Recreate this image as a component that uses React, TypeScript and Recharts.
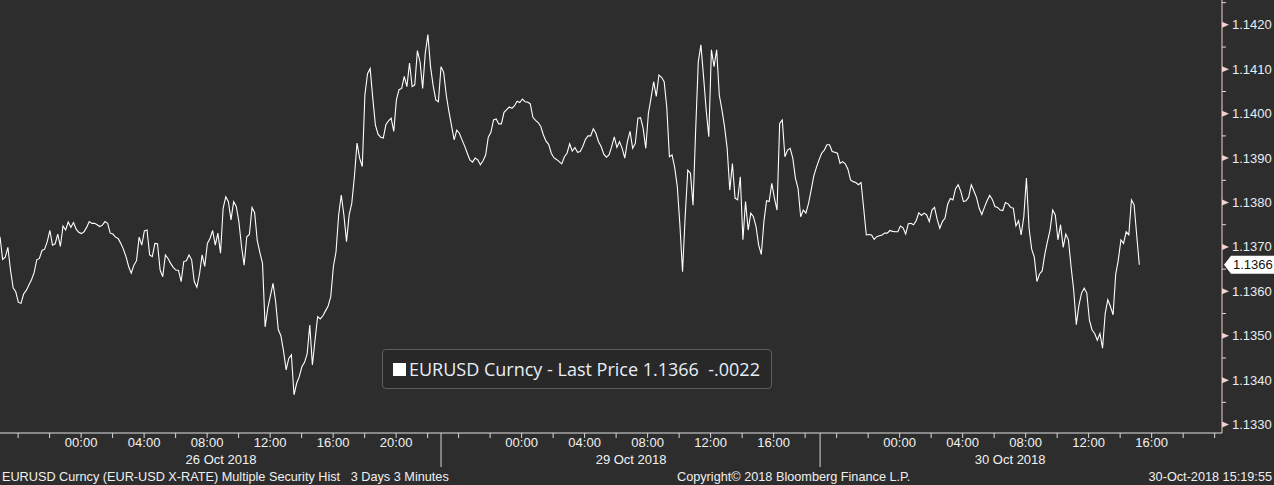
import { LineChart, Line, XAxis, YAxis } from "recharts"

// EURUSD last price, one reading every 10 minutes of session time
// (session clock starts 25 Oct 2018 18:51, weekend gap left out)
const STEP_MIN = 10
const prices: number[] = [
  1.13723, 1.13672, 1.13677, 1.13699, 1.13648, 1.13608, 1.13599, 1.13575, 1.13573, 1.13594,
  1.13602, 1.13614, 1.13626, 1.13642, 1.13671, 1.13674, 1.13692, 1.13695, 1.13712, 1.13737,
  1.13704, 1.13707, 1.13729, 1.13701, 1.13747, 1.13738, 1.13756, 1.13744, 1.13755, 1.1374,
  1.13733, 1.1373, 1.13734, 1.13744, 1.13757, 1.13753, 1.13753, 1.1375, 1.13746, 1.13749,
  1.13757, 1.13753, 1.13731, 1.13729, 1.13722, 1.13719, 1.13708, 1.13695, 1.13678, 1.13656,
  1.13641, 1.13659, 1.13669, 1.13722, 1.13704, 1.13736, 1.13738, 1.13682, 1.13678, 1.13708,
  1.13707, 1.13648, 1.13633, 1.13682, 1.13674, 1.13663, 1.13654, 1.13648, 1.13647, 1.13622,
  1.13667, 1.13669, 1.13682, 1.13671, 1.13622, 1.13609, 1.13639, 1.13682, 1.13656, 1.13708,
  1.13719, 1.13737, 1.13704, 1.13731, 1.13686, 1.13787, 1.13813, 1.13802, 1.13761, 1.13802,
  1.13791, 1.13757, 1.13701, 1.13659, 1.13723, 1.13728, 1.13789, 1.13777, 1.13714, 1.13687,
  1.13663, 1.1352, 1.13562, 1.1359, 1.13618, 1.13577, 1.13514, 1.135, 1.13466, 1.13423,
  1.13449,
  1.13457, 1.13367, 1.13393, 1.13408, 1.1343, 1.1344, 1.13459, 1.13524, 1.13434, 1.1349,
  1.13543, 1.13538, 1.13545, 1.13556, 1.13567, 1.13588, 1.13656, 1.13689, 1.13772, 1.13817,
  1.13772, 1.13712, 1.13772, 1.13798, 1.13858, 1.13934, 1.139, 1.13881, 1.14042, 1.1409,
  1.14102, 1.14035, 1.13975, 1.13954, 1.13947, 1.13945, 1.13975, 1.13984, 1.1399, 1.1396,
  1.14031, 1.14054, 1.14057, 1.14084, 1.14061, 1.14114, 1.14061, 1.14065, 1.14142, 1.14117,
  1.14057, 1.14136, 1.14178, 1.14106, 1.14063, 1.14031, 1.14027, 1.14106, 1.14093, 1.14042,
  1.14005, 1.13973, 1.13941, 1.13963, 1.13956, 1.13941, 1.13927, 1.13911, 1.13896, 1.13891,
  1.139, 1.13896, 1.13885, 1.13894, 1.13907, 1.13947, 1.13958, 1.13986, 1.13988, 1.13977,
  1.13977, 1.14003, 1.14009, 1.14015, 1.14012, 1.14018, 1.14028, 1.14025, 1.14033, 1.14027,
  1.14026, 1.14022, 1.13992, 1.13985, 1.1398, 1.13971, 1.13952, 1.13938, 1.13931, 1.13911,
  1.13901, 1.13897, 1.13892, 1.13887, 1.13903, 1.13911, 1.13932, 1.13916, 1.13924, 1.13913,
  1.13915, 1.13926, 1.13942, 1.1395, 1.1395, 1.13966, 1.13956, 1.13937, 1.13926, 1.13909,
  1.13902, 1.13907, 1.13926, 1.13948, 1.13924, 1.13937, 1.13922, 1.139, 1.13937, 1.1396,
  1.13922, 1.13933, 1.1399, 1.13991, 1.13967, 1.13922, 1.14001, 1.14035, 1.14072, 1.14039,
  1.14087, 1.14082, 1.14072, 1.14014, 1.13903, 1.13907, 1.13879, 1.13836, 1.13749, 1.13644,
  1.13768, 1.13873, 1.13866, 1.13794, 1.13963, 1.14117, 1.14155, 1.14084, 1.14009, 1.13948,
  1.14144, 1.14106, 1.14144, 1.14042, 1.14009, 1.13971, 1.13922, 1.13828, 1.13888, 1.1381,
  1.13806, 1.13858, 1.13716, 1.13802, 1.13738, 1.13776, 1.13768, 1.13746, 1.13704, 1.13683,
  1.13757, 1.13804, 1.13802, 1.13843, 1.1381, 1.13783, 1.13978, 1.13986, 1.13903, 1.13918,
  1.13922, 1.139, 1.13855, 1.13832, 1.13768, 1.13783, 1.13776, 1.13798, 1.13828, 1.1386,
  1.13879, 1.13896, 1.13911, 1.13918, 1.1393, 1.1393, 1.13915, 1.13913, 1.13911, 1.13888,
  1.13892, 1.13887, 1.13875, 1.13851, 1.13847, 1.13845, 1.1384, 1.13845, 1.13787, 1.13727,
  1.13728,
  1.13727, 1.13717, 1.13723, 1.13725, 1.13727, 1.13731, 1.13731, 1.13737, 1.13735,
  1.13734, 1.13734, 1.13747, 1.13743, 1.13729, 1.13752, 1.13753, 1.1375, 1.13759, 1.13777,
  1.13771, 1.13776, 1.13772, 1.13757, 1.13783, 1.13789, 1.13762, 1.13742, 1.13757, 1.13765,
  1.13796, 1.13809, 1.13806, 1.13831, 1.1384, 1.13825, 1.13802, 1.13804, 1.13812, 1.1384,
  1.13826, 1.13811, 1.13787, 1.13773, 1.13789, 1.13804, 1.13816, 1.13807, 1.13791, 1.13789,
  1.13783, 1.13782, 1.138, 1.13797, 1.13789, 1.13787, 1.13747, 1.13759, 1.13727, 1.13768,
  1.13855, 1.13742, 1.13695, 1.13677, 1.13622, 1.13639, 1.13646, 1.13683, 1.13712, 1.13738,
  1.13783, 1.13772, 1.13716, 1.1375, 1.13699, 1.13729, 1.13716, 1.13656, 1.13603, 1.13525,
  1.13569, 1.13596, 1.13607, 1.13596, 1.13535, 1.13513, 1.13505, 1.1349, 1.13505, 1.13472,
  1.1355, 1.13581, 1.13566, 1.13547, 1.13638, 1.13671, 1.13716, 1.13708, 1.13734, 1.13727,
  1.13806, 1.13795, 1.13727, 1.1366
]

// x axis, in session minutes: a tick every 2 hours, labelled every 4 hours
const hourTicks = [
  69, 189, 309, 429, 549, 669, 789, 909, 1029, 1149, 1269, 1389, 1509, 1629,
  1747, 1867, 1987, 2107, 2227, 2347, 2467, 2587, 2707, 2827, 2947, 3067,
  3187, 3307, 3427, 3547, 3667, 3787, 3907, 4027, 4147, 4267, 4387, 4507, 4627
]
const hourLabels = [
  "", "", "00:00", "", "04:00", "", "08:00", "", "12:00", "", "16:00", "", "20:00", "",
  "", "", "00:00", "", "04:00", "", "08:00", "", "12:00", "", "16:00", "",
  "", "", "00:00", "", "04:00", "", "08:00", "", "12:00", "", "16:00", "", ""
]
const daySeparators = [1680, 3124]
const dayLabelTicks = [842, 2404, 3848]
const dayLabels = ["26 Oct 2018", "29 Oct 2018", "30 Oct 2018"]

// y axis ticks (every half a big figure step), last price tag goes last
const priceTicks = [
  1.133, 1.1335, 1.134, 1.1345, 1.135, 1.1355, 1.136, 1.1365, 1.137, 1.1375,
  1.138, 1.1385, 1.139, 1.1395, 1.14, 1.1405, 1.141, 1.1415, 1.142, 1.1425
]
const lastPrice = 1.1366
const priceChange = "-.0022"

const X_DOMAIN: [number, number] = [0, 4655]
const Y_DOMAIN: [number, number] = [1.13281, 1.14256]

const BG = "#2d2d2d"
const AXIS_FONT = "'Liberation Sans', Arial, sans-serif"

const data = prices.map((price, i) => ({ t: i * STEP_MIN, price }))

// time axis tick: hour marks, day separators and day labels
const TimeTick = ({ x, y, payload }: any) => {
  const v = payload.value
  const sep = daySeparators.indexOf(v)
  if (sep >= 0) {
    return <line x1={x} x2={x} y1={y} y2={y + 34} stroke="#d6d6d6" strokeWidth={1} />
  }
  const d = dayLabelTicks.indexOf(v)
  if (d >= 0) {
    return (
      <text x={x} y={y + 26} fill="#f2f2f2" fontSize={13} fontFamily={AXIS_FONT}
        textAnchor="middle" dominantBaseline="central">
        {dayLabels[d]}
      </text>
    )
  }
  const h = hourTicks.indexOf(v)
  return (
    <g>
      <line x1={x} x2={x} y1={y} y2={y + 5} stroke="#d6d6d6" strokeWidth={1} />
      {hourLabels[h] ? (
        <text x={x} y={y + 9.5} fill="#f2f2f2" fontSize={13} fontFamily={AXIS_FONT}
          textAnchor="middle" dominantBaseline="central">
          {hourLabels[h]}
        </text>
      ) : null}
    </g>
  )
}

// price axis tick: pink arrow + label on whole pips*10, short dash in between
const PriceTick = ({ x, y, payload }: any) => {
  const v = payload.value
  if (v === lastPrice) {
    return (
      <g>
        <polygon
          points={`${x + 2},${y} ${x + 9},${y - 9} ${x + 53},${y - 9} ${x + 53},${y + 9} ${x + 9},${y + 9}`}
          fill="#ffffff"
        />
        <text x={x + 11} y={y} fill="#111111" fontSize={13} fontFamily={AXIS_FONT}
          dominantBaseline="central">
          {lastPrice.toFixed(4)}
        </text>
      </g>
    )
  }
  const major = Math.round(v * 10000) % 10 === 0
  if (!major) {
    return <line x1={x} x2={x + 4} y1={y} y2={y} stroke="#f0d2d2" strokeWidth={1} />
  }
  return (
    <g>
      <polygon points={`${x},${y - 3} ${x + 7},${y} ${x},${y + 3}`} fill="#f4d0d0" />
      <text x={x + 10} y={y} fill="#e6ecf4" fontSize={13} fontFamily={AXIS_FONT}
        dominantBaseline="central">
        {v.toFixed(4)}
      </text>
    </g>
  )
}

const footerStyle = {
  position: "absolute" as const,
  top: 469,
  fontFamily: AXIS_FONT,
  fontSize: 12.7,
  lineHeight: "16px",
  color: "#f0f0f0",
  whiteSpace: "pre" as const
}

export default function App() {
  return (
    <div style={{ position: "absolute", left: 0, top: 0, width: 1274, height: 485, background: BG, overflow: "hidden" }}>
      <LineChart width={1274} height={485} data={data} margin={{ top: 0, right: 0, bottom: 0, left: 0 }}>
        <XAxis
          dataKey="t"
          type="number"
          domain={X_DOMAIN}
          allowDataOverflow
          height={52}
          ticks={[...hourTicks, ...daySeparators, ...dayLabelTicks]}
          interval={0}
          tickSize={0}
          tickMargin={0}
          tickLine={false}
          axisLine={{ stroke: "#e2e2e2" }}
          tick={<TimeTick />}
        />
        <YAxis
          orientation="right"
          type="number"
          domain={Y_DOMAIN}
          allowDataOverflow
          width={52}
          ticks={[...priceTicks, lastPrice]}
          interval={0}
          tickSize={0}
          tickMargin={0}
          tickLine={false}
          axisLine={{ stroke: "#f0d2d2" }}
          tick={<PriceTick />}
        />
        <Line
          type="linear"
          dataKey="price"
          stroke="#ffffff"
          strokeWidth={1.1}
          dot={false}
          activeDot={false}
          isAnimationActive={false}
        />
      </LineChart>

      <div
        style={{
          position: "absolute", left: 382, top: 349, width: 390, height: 40,
          boxSizing: "border-box", border: "1px solid #5e5e5e", borderRadius: 4,
          background: "#282828", display: "flex", alignItems: "center"
        }}
      >
        <div style={{ width: 13, height: 13, background: "#ffffff", marginLeft: 10, marginRight: 3 }} />
        <span style={{ fontFamily: "'Open Sans', sans-serif", fontSize: 18, color: "#e8eef6", whiteSpace: "pre" }}>
          {`EURUSD Curncy - Last Price ${lastPrice.toFixed(4)}  ${priceChange}`}
        </span>
      </div>

      <div style={{ ...footerStyle, left: 2 }}>
        EURUSD Curncy (EUR-USD X-RATE) Multiple Security Hist   3 Days 3 Minutes
      </div>
      <div style={{ ...footerStyle, left: 677 }}>Copyright© 2018 Bloomberg Finance L.P.</div>
      <div style={{ ...footerStyle, right: 2 }}>30-Oct-2018 15:19:55</div>
    </div>
  )
}
